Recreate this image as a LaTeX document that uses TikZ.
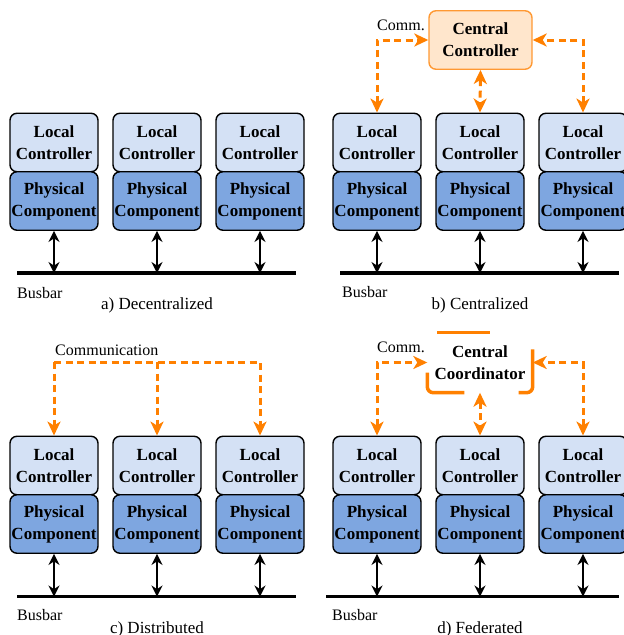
\documentclass[tikz,border=0pt]{standalone}
\usepackage{fontspec}
\setmainfont{Liberation Serif}
\usepackage{tikz}
\usetikzlibrary{arrows.meta}
\usepackage{xcolor}
\definecolor{lcblue}{RGB}{212,225,245}
\definecolor{pcblue}{RGB}{126,166,224}
\definecolor{commorange}{RGB}{255,128,0}
\definecolor{ccfill}{RGB}{255,230,204}
\definecolor{ccline}{RGB}{255,153,51}

\begin{document}
\begin{tikzpicture}[x=1pt,y=-1pt,node distance=103pt,font=\fontsize{16}{19}\selectfont]
  \tikzstyle{box}=[draw,line width=1.4pt,rounded corners=7pt,inner sep=0pt,minimum width=88pt,minimum height=58.5pt,align=center,font=\bfseries\fontsize{17}{22}\selectfont]
  \tikzstyle{local}=[box,fill=lcblue]
  \tikzstyle{phys}=[box,fill=pcblue]
  \tikzstyle{central}=[box,draw=ccline,fill=ccfill,minimum width=103pt]
  \tikzstyle{coord}=[box,draw=none,minimum width=104pt,minimum height=59pt]
  \tikzstyle{bus}=[line width=3.2pt]
  \tikzstyle{link}=[line width=1.6pt,>={Stealth[length=11pt,width=11pt]},<->]
  \tikzstyle{comm}=[draw=commorange,line width=3pt,dash pattern=on 7pt off 4.5pt,>={Stealth[length=14pt,width=13pt,inset=4pt]}]
  \tikzstyle{bracket}=[draw=commorange,line width=3.5pt,rounded corners=6pt]
  \tikzstyle{caption}=[font=\fontsize{17}{20}\selectfont]

  \useasboundingbox (0,0) rectangle (624,635);

  % a) decentralized
  \begin{scope}[name prefix=a-]
    \node[local] (lc1) at (54,142.5)  {Local\\Controller};
    \node[local] (lc2) [right of=lc1] {Local\\Controller};
    \node[local] (lc3) [right of=lc2] {Local\\Controller};
    \node[phys]  (pc1) [below of=lc1,node distance=58.5pt] {Physical\\Component};
    \node[phys]  (pc2) [below of=lc2,node distance=58.5pt] {Physical\\Component};
    \node[phys]  (pc3) [below of=lc3,node distance=58.5pt] {Physical\\Component};

    \coordinate (bus_l) at (17,273);
    \coordinate (bus_r) at (296,273);
    \draw[bus] (bus_l) -- (bus_r);
    \path[link]
    (pc1.south) edge (pc1.south |- bus_l)
    (pc2.south) edge (pc2.south |- bus_l)
    (pc3.south) edge (pc3.south |- bus_l)
    ;
    \node[anchor=west,inner sep=0pt] (busbar) at (17,293) {Busbar};
    \node[caption] (label) at (157,305) {a) Decentralized};
  \end{scope}

  % b) centralized
  \begin{scope}[shift={(323,0)},name prefix=b-]
    \node[local] (lc1) at (54,142.5)  {Local\\Controller};
    \node[local] (lc2) [right of=lc1] {Local\\Controller};
    \node[local] (lc3) [right of=lc2] {Local\\Controller};
    \node[phys]  (pc1) [below of=lc1,node distance=58.5pt] {Physical\\Component};
    \node[phys]  (pc2) [below of=lc2,node distance=58.5pt] {Physical\\Component};
    \node[phys]  (pc3) [below of=lc3,node distance=58.5pt] {Physical\\Component};
    \node[central] (cc) at (157.5,40) {Central\\Controller};
    \node (comm) at (78,25) {Comm.};

    \draw[comm,<->] (lc1.north) |- (cc.west);
    \draw[comm,<->] (lc3.north) |- (cc.east);
    \draw[comm,<->] (cc.south) -- (lc2.north);

    \coordinate (bus_l) at (17,273);
    \coordinate (bus_r) at (296,273);
    \draw[bus] (bus_l) -- (bus_r);
    \path[link]
    (pc1.south) edge (pc1.south |- bus_l)
    (pc2.south) edge (pc2.south |- bus_l)
    (pc3.south) edge (pc3.south |- bus_l)
    ;
    \node[anchor=west,inner sep=0pt] (busbar) at (19,292) {Busbar};
    \node[caption] (label) at (157,305) {b) Centralized};
  \end{scope}

  % c) distributed
  \begin{scope}[shift={(0,323)},name prefix=c-]
    \node[local] (lc1) at (54,142.5)  {Local\\Controller};
    \node[local] (lc2) [right of=lc1] {Local\\Controller};
    \node[local] (lc3) [right of=lc2] {Local\\Controller};
    \node[phys]  (pc1) [below of=lc1,node distance=58.5pt] {Physical\\Component};
    \node[phys]  (pc2) [below of=lc2,node distance=58.5pt] {Physical\\Component};
    \node[phys]  (pc3) [below of=lc3,node distance=58.5pt] {Physical\\Component};
    \node[anchor=west,inner sep=0pt] (comm) at (55,27) {Communication};
    \coordinate (net) at (54,39);

    \draw[comm,->] (net) -| (lc3.north);
    \draw[comm,->] (net) -- (lc1.north);
    \draw[comm,->] (lc2.north |- net) -- (lc2.north);

    \coordinate (bus_l) at (17,273.5);
    \coordinate (bus_r) at (296,273.5);
    \draw[bus] (bus_l) -- (bus_r);
    \path[link]
    (pc1.south) edge (pc1.south |- bus_l)
    (pc2.south) edge (pc2.south |- bus_l)
    (pc3.south) edge (pc3.south |- bus_l)
    ;
    \node[anchor=west,inner sep=0pt] (busbar) at (17,292) {Busbar};
    \node[caption] (label) at (157,306) {c) Distributed};
  \end{scope}

  % d) federated
  \begin{scope}[shift={(323,323)},name prefix=d-]
    \node[local] (lc1) at (54,142.5)  {Local\\Controller};
    \node[local] (lc2) [right of=lc1] {Local\\Controller};
    \node[local] (lc3) [right of=lc2] {Local\\Controller};
    \node[phys]  (pc1) [below of=lc1,node distance=58.5pt] {Physical\\Component};
    \node[phys]  (pc2) [below of=lc2,node distance=58.5pt] {Physical\\Component};
    \node[phys]  (pc3) [below of=lc3,node distance=58.5pt] {Physical\\Component};
    \node[coord] (cc) at (157,39.5) {Central\\Coordinator};
    \node (comm) at (78,24) {Comm.};

    \draw[bracket] ([xshift=10pt]cc.north west) -- ([xshift=63pt]cc.north west);
    \draw[bracket] ([yshift=-10pt]cc.west) -- (cc.south west) -- ([xshift=37pt]cc.south west);
    \draw[bracket] ([yshift=-17pt]cc.north east) -- (cc.south east) -- ([xshift=-14pt]cc.south east);

    \draw[comm,<->] (lc1.north) |- (cc.west);
    \draw[comm,<->] (lc3.north) |- (cc.east);
    \draw[comm,<->] (cc.south) -- (lc2.north);

    \coordinate (bus_l) at (3,273.5);
    \coordinate (bus_r) at (296,273.5);
    \draw[bus] (bus_l) -- (bus_r);
    \path[link]
    (pc1.south) edge (pc1.south |- bus_l)
    (pc2.south) edge (pc2.south |- bus_l)
    (pc3.south) edge (pc3.south |- bus_l)
    ;
    \node[anchor=west,inner sep=0pt] (busbar) at (9,292) {Busbar};
    \node[caption] (label) at (157,306) {d) Federated};
  \end{scope}
\end{tikzpicture}
\end{document}
